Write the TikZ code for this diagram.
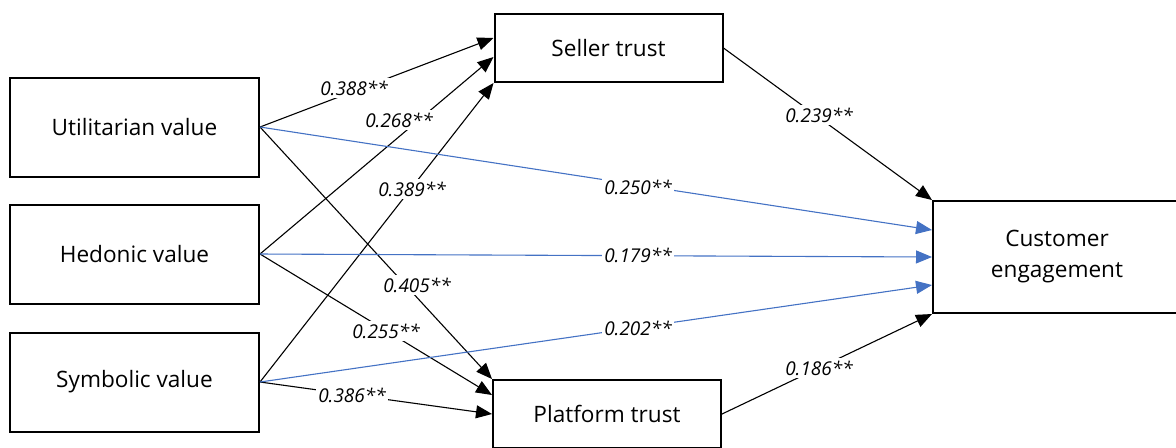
\documentclass[tikz,border=0pt]{standalone}
\usepackage{fontspec}
\setmainfont{Open Sans}
\usetikzlibrary{arrows.meta,calc}
\definecolor{pathblue}{HTML}{4472C4}
\begin{document}
\begin{tikzpicture}[x=0.5pt,y=-0.5pt,
  box/.style={draw,line width=1pt,fill=white,inner sep=0pt,align=center,
    font=\fontsize{11.3}{15.5}\selectfont},
  srcbox/.style={box,minimum width=124.5pt,minimum height=49.5pt},
  trustbox/.style={box,minimum width=114pt,minimum height=34pt},
  link/.style={line width=0.55pt,-{Triangle[length=8pt,width=6.5pt]}},
  direct/.style={link,draw=pathblue},
  coef/.style={fill=white,inner sep=1.2pt,font=\fontsize{9.5}{11}\selectfont\itshape}
]
\useasboundingbox (0,0) rectangle (1176,447);

% constructs
\node[srcbox] (util) at (134.5,127) {Utilitarian value};
\node[srcbox] (hedo) at (134.5,254) {Hedonic value};
\node[srcbox] (symb) at (134.5,382) {Symbolic value};
\node[trustbox] (seller) at (608.5,48) {Seller trust};
\node[trustbox] (platform) at (607,414) {Platform trust};
\node[box,minimum width=124pt,minimum height=56pt] (cust) at (1057,257) {Customer\\engagement};

% paths to the trust constructs
\draw[link] (util.east) -- ($(seller.west)+(0,-10)$);
\draw[link] (hedo.east) -- ($(seller.west)+(0,9)$);
\draw[link] (symb.east) -- (seller.south west);
\draw[link] (util.east) -- (platform.north west);
\draw[link] (hedo.east) -- ($(platform.west)+(0,-19)$);
\draw[link] (symb.east) -- (platform.west);

% direct paths to engagement
\draw[direct] (util.east) -- ($(cust.west)+(0,-27)$);
\draw[direct] (hedo.east) -- (cust.west);
\draw[direct] (symb.east) -- ($(cust.west)+(0,28)$);

% trust to engagement
\draw[link] (seller.east) -- (cust.north west);
\draw[link] (platform.east) -- (cust.south west);

% path coefficients
\node[coef] (c388) at (354,88) {0.388**};
\node[coef] (c268) at (399,120) {0.268**};
\node[coef] (c389) at (412,189) {0.389**};
\node[coef] (c405) at (417,285) {0.405**};
\node[coef] (c255) at (386,331) {0.255**};
\node[coef] (c386) at (352,395) {0.386**};
\node[coef] (c250) at (638,187) {0.250**};
\node[coef] (c179) at (638,255) {0.179**};
\node[coef] (c202) at (638,328) {0.202**};
\node[coef] (c239) at (819,115) {0.239**};
\node[coef] (c186) at (819,368) {0.186**};
\end{tikzpicture}
\end{document}
